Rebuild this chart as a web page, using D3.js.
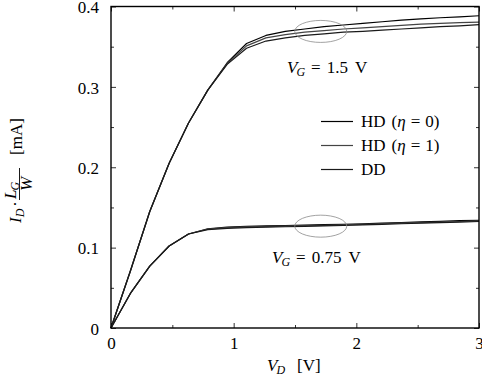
<!DOCTYPE html>
<html><head><meta charset="utf-8">
<script src="https://cdn.jsdelivr.net/npm/d3@7"></script>
<style>
html,body{margin:0;padding:0;background:#fff;}
svg text{font-family:"Liberation Serif","Times New Roman",serif;fill:#000;}
</style></head>
<body>
<svg id="chart" width="482" height="379"></svg>
<script>
// ---- data ----
const vd = [0, 0.158, 0.316, 0.474, 0.632, 0.789, 0.947, 1.105, 1.263, 1.421, 1.579, 1.737, 1.895, 2.053, 2.211, 2.368, 2.526, 2.684, 2.842, 3];
// V_G = 1.5 V
const hd0_15 = [0, 0.071, 0.145, 0.205, 0.255, 0.296, 0.330, 0.354, 0.364, 0.369, 0.372, 0.375, 0.377, 0.379, 0.381, 0.383, 0.3845, 0.386, 0.387, 0.3885];
const hd1_15 = [0, 0.071, 0.145, 0.205, 0.255, 0.296, 0.329, 0.351, 0.361, 0.365, 0.368, 0.370, 0.372, 0.3735, 0.375, 0.3765, 0.378, 0.379, 0.380, 0.3805];
const dd_15  = [0, 0.071, 0.145, 0.205, 0.255, 0.296, 0.328, 0.348, 0.357, 0.361, 0.364, 0.366, 0.368, 0.369, 0.3705, 0.372, 0.3735, 0.375, 0.376, 0.3775];
// V_G = 0.75 V
const hd0_075 = [0, 0.043, 0.077, 0.102, 0.117, 0.1235, 0.1255, 0.1265, 0.127, 0.1275, 0.128, 0.1285, 0.129, 0.1297, 0.1305, 0.1312, 0.132, 0.1327, 0.1335, 0.134];
const hd1_075 = [0, 0.043, 0.077, 0.102, 0.117, 0.123, 0.1248, 0.1257, 0.1262, 0.1267, 0.1272, 0.1277, 0.1283, 0.129, 0.1297, 0.1304, 0.1311, 0.1318, 0.1325, 0.1332];
const dd_075  = [0, 0.043, 0.077, 0.102, 0.117, 0.1225, 0.124, 0.125, 0.1255, 0.126, 0.1265, 0.127, 0.1275, 0.1282, 0.129, 0.1297, 0.1304, 0.1311, 0.1318, 0.1325];
const xTicks = [0, 1, 2, 3];
const xMinor = [0.5, 1.5, 2.5];
const yTicks = [0, 0.1, 0.2, 0.3, 0.4];
const yMinor = [0.05, 0.15, 0.25, 0.35];
const legendLabels = ["HD", "HD", "DD"];
const legendEta = ["0", "1", null];
const seriesColors = ["#000", "#444", "#1a1a1a"];
const ellipseCenters = [[1.71, 0.369], [1.71, 0.1267]];

// ---- layout ----
const svg = d3.select("#chart");
const L = 111, R = 479, T = 6.5, B = 328;
const x = d3.scaleLinear().domain([0, 3]).range([L, R]);
const y = d3.scaleLinear().domain([0, 0.4]).range([B, T]);

// curves
const line = d3.line().x((d, i) => x(vd[i])).y(d => y(d));
const groups = [[hd0_15, hd1_15, dd_15], [hd0_075, hd1_075, dd_075]];
groups.forEach(g => g.forEach((s, k) => {
  svg.append("path").attr("d", line(s)).attr("fill", "none")
    .attr("stroke", seriesColors[k]).attr("stroke-width", 1.2).attr("stroke-linejoin", "round");
}));

// ellipses
ellipseCenters.forEach(c => {
  svg.append("ellipse").attr("cx", x(c[0])).attr("cy", y(c[1]))
    .attr("rx", 26).attr("ry", 11).attr("fill", "none")
    .attr("stroke", "#8a8a8a").attr("stroke-width", 0.8);
});

// axes (ticks inward)
const axB = d3.axisBottom(x).tickValues(xTicks).tickSize(-5).tickPadding(9).tickFormat(d3.format("d"));
const axT = d3.axisTop(x).tickValues(xTicks).tickSize(-5).tickFormat("");
const axL = d3.axisLeft(y).tickValues(yTicks).tickSize(-5).tickPadding(12).tickFormat(d => d === 0 ? "0" : d3.format(".1f")(d));
const axR = d3.axisRight(y).tickValues(yTicks).tickSize(-5).tickFormat("");
const axBm = d3.axisBottom(x).tickValues(xMinor).tickSize(-3).tickFormat("");
const axTm = d3.axisTop(x).tickValues(xMinor).tickSize(-3).tickFormat("");
const axLm = d3.axisLeft(y).tickValues(yMinor).tickSize(-3).tickFormat("");
const axRm = d3.axisRight(y).tickValues(yMinor).tickSize(-3).tickFormat("");

function addAxis(ax, tr) {
  const g = svg.append("g").attr("transform", tr).call(ax);
  g.select(".domain").remove();
  g.selectAll(".tick line").attr("stroke", "#333").attr("stroke-width", 1);
  g.selectAll(".tick text").attr("font-size", 17).attr("fill", "#000");
  return g;
}
addAxis(axB, `translate(0,${B})`);
addAxis(axT, `translate(0,${T})`);
addAxis(axL, `translate(${L},0)`).selectAll(".tick text").attr("dy", "0.36em");
addAxis(axR, `translate(${R},0)`);
addAxis(axBm, `translate(0,${B})`);
addAxis(axTm, `translate(0,${T})`);
addAxis(axLm, `translate(${L},0)`);
addAxis(axRm, `translate(${R},0)`);

// frame
svg.append("rect").attr("x", L).attr("y", T).attr("width", R - L).attr("height", B - T)
  .attr("fill", "none").attr("stroke", "#000").attr("stroke-width", 1.4);

// V_G labels
function vgLabel(px, py, val) {
  const t = svg.append("text").attr("x", px).attr("y", py).attr("font-size", 17);
  t.append("tspan").attr("font-style", "italic").text("V");
  t.append("tspan").attr("font-style", "italic").attr("font-size", 12).attr("dy", 3).attr("dx", -1).text("G");
  t.append("tspan").attr("dy", -3).attr("dx", 6).text("=");
  t.append("tspan").attr("dx", 6).text(val);
  t.append("tspan").attr("dx", 7).text("V");
}
vgLabel(287, 73, "1.5");
vgLabel(272, 263, "0.75");

// legend
legendLabels.forEach((lab, i) => {
  const cy = 121.5 + i * 24;
  svg.append("line").attr("x1", 321).attr("x2", 353).attr("y1", cy).attr("y2", cy)
    .attr("stroke", seriesColors[i]).attr("stroke-width", 1.2);
  const t = svg.append("text").attr("x", 361).attr("y", cy + 5.5).attr("font-size", 17);
  t.append("tspan").text(lab);
  if (legendEta[i] !== null) {
    t.append("tspan").attr("dx", 6).text("(");
    t.append("tspan").attr("font-style", "italic").text("η");
    t.append("tspan").attr("dx", 5).text("=");
    t.append("tspan").attr("dx", 5).text(legendEta[i] + ")");
  }
});

// x-axis title
const xt = svg.append("text").attr("x", 267).attr("y", 371).attr("font-size", 17);
xt.append("tspan").attr("font-style", "italic").text("V");
xt.append("tspan").attr("font-style", "italic").attr("font-size", 12).attr("dy", 3).attr("dx", -1).text("D");
xt.append("tspan").attr("dy", -3).attr("dx", 12).text("[V]");

// y-axis title (rotated)
const yg = svg.append("g").attr("transform", "translate(0,0) rotate(-90)");
const t1 = yg.append("text").attr("x", -223).attr("y", 21).attr("font-size", 17);
t1.append("tspan").attr("font-style", "italic").text("I");
t1.append("tspan").attr("font-style", "italic").attr("font-size", 12).attr("dy", 3).text("D");
t1.append("tspan").attr("dy", -3).attr("dx", 2).text("·");
const f1 = yg.append("text").attr("x", -199).attr("y", 16).attr("font-size", 17);
f1.append("tspan").attr("font-style", "italic").text("L");
f1.append("tspan").attr("font-style", "italic").attr("font-size", 12).attr("dy", 3).attr("dx", -1).text("G");
yg.append("line").attr("x1", -200).attr("x2", -168).attr("y1", 19.5).attr("y2", 19.5)
  .attr("stroke", "#000").attr("stroke-width", 0.9);
yg.append("text").attr("x", -184).attr("y", 32).attr("font-size", 17).attr("font-style", "italic")
  .attr("text-anchor", "middle").text("W");
yg.append("text").attr("x", -155).attr("y", 22).attr("font-size", 17).text("[mA]");
</script>
</body></html>
